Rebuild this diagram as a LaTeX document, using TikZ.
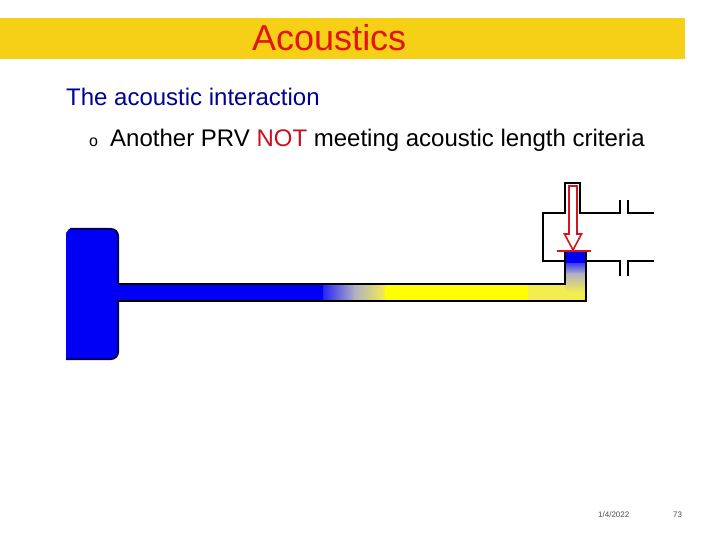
\documentclass[tikz,border=0pt]{standalone}
\usepackage{fontspec}
\setmainfont{Liberation Sans}
\usepackage{xcolor}
\definecolor{bandyellow}{RGB}{246,208,22}
\definecolor{titlered}{RGB}{225,20,20}
\definecolor{headblue}{RGB}{0,0,150}
\definecolor{notred}{RGB}{200,16,30}
\definecolor{flowblue}{RGB}{0,0,245}
\definecolor{flowyellow}{RGB}{255,255,0}
\definecolor{paleyellow}{RGB}{243,236,80}
\definecolor{midgrey}{RGB}{176,176,196}
\definecolor{arrowred}{RGB}{215,20,30}

\begin{document}
\begin{tikzpicture}[
  x=1pt, y=-1pt,
  wall/.style={draw=black, line width=2pt, line join=miter},
  nozzle/.style={draw=arrowred, line width=1.6pt, fill=white, line join=miter},
  heading/.style={anchor=base west, inner sep=0pt, font=\fontsize{24}{28}\selectfont},
  small/.style={anchor=base west, inner sep=0pt, font=\fontsize{8}{10}\selectfont, text=black!70}
]
\useasboundingbox (0,0) rectangle (720,540);

% Title band
\fill[bandyellow] (0,18) rectangle (685,59);
\node[anchor=base west, inner sep=0pt, text=titlered, font=\fontsize{36}{40}\selectfont] (title) at (252,51) {Acoustics};

% Text lines
\node[heading, text=headblue] (topic) at (66,106) {The acoustic interaction};
\node[anchor=base west, inner sep=0pt, font=\fontsize{16}{18}\selectfont] (bullet) at (89,147) {o};
\node[heading] (point) at (110,147) {Another PRV \textcolor{notred}{NOT} meeting acoustic length criteria};

% Footer
\node[small] (date) at (598,517) {1/4/2022};
\node[small] (page) at (673,517) {73};

% Liquid in the line
\fill[flowblue, rounded corners=7pt] (72,229) -- (118,229) -- (118,359) -- (72,359) [sharp corners] -- (66,359) -- (66,233) -- (69,229) -- cycle;
\fill[flowblue] (110,284) rectangle (323.5,301);
\shade[left color=flowblue!85!white, right color=midgrey] (323,284) rectangle (355,301);
\shade[left color=midgrey, right color=paleyellow] (354.5,284) rectangle (385,301);
\fill[flowyellow] (385,284) rectangle (528,301);
\fill[paleyellow] (528,284) rectangle (586,301);
\shade[top color=flowblue!80!white, bottom color=midgrey] (565,262) rectangle (586,274);
\shade[top color=midgrey, bottom color=paleyellow] (565,273.5) rectangle (586,292);
\fill[flowblue] (565,251) rectangle (586,262.5);
\fill[paleyellow] (565,291.5) rectangle (586,301);

% Line walls
\draw[wall, black!60!flowblue, rounded corners=7pt] (70,229) -- (118,229) -- (118,283.5);
\draw[wall, black!60!flowblue, rounded corners=7pt] (118,301) -- (118,359) -- (66,359);
\draw[wall] (118,284) -- (565,284) -- (565,251);
\draw[wall, line cap=rect] (118,301) -- (586,301) -- (586,251);

% Outlet pipe and branch
\draw[wall] (565,261) -- (543,261) -- (543,213) -- (565,213) -- (565,183) -- (580,183) -- (580,213) -- (620,213) -- (620,200);
\draw[wall] (628,200) -- (628,213) -- (654,213);
\draw[wall] (586,261) -- (620,261) -- (620,276);
\draw[wall] (628,276) -- (628,261) -- (654,261);

% Valve seat and flow arrow
\draw[arrowred, line width=1.6pt] (557,251) -- (591,251);
\draw[nozzle] (569,186) -- (577,186) -- (577,234) -- (581.5,234) -- (573,250) -- (564.5,234) -- (569,234) -- cycle;
\end{tikzpicture}
\end{document}
